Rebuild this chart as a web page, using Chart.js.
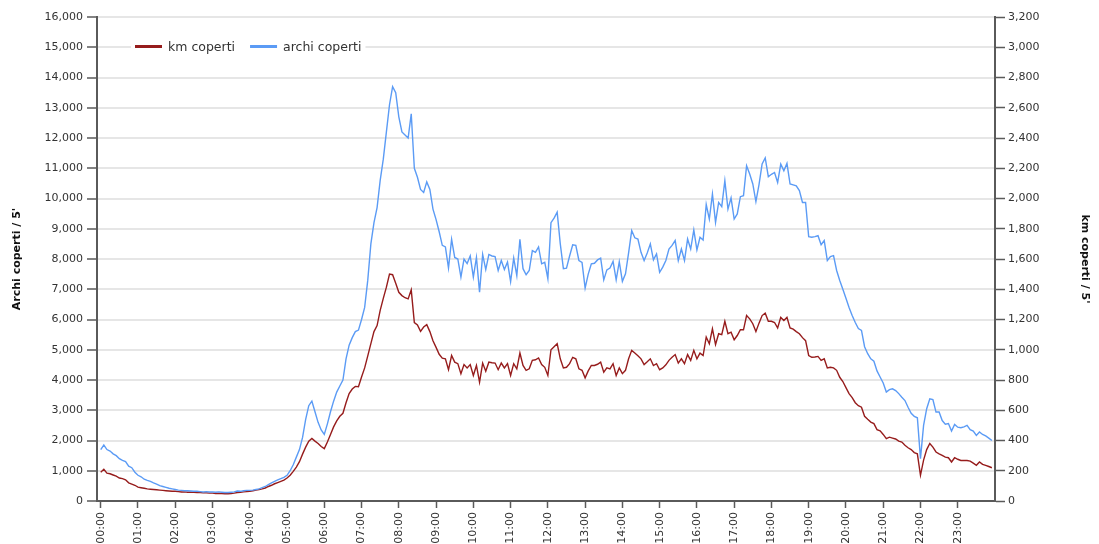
<!DOCTYPE html>
<html><head><meta charset="utf-8">
<script src="https://cdn.jsdelivr.net/npm/chart.js@4.4.1/dist/chart.umd.min.js"></script>
<style>html,body{margin:0;padding:0;background:#fff;overflow:hidden}#wrap{width:1099px;height:544px;position:relative}</style>
</head><body><div id="wrap"><canvas id="c" width="1099" height="544"></canvas></div>
<script>
// categories: 5-minute slots of one day
const times = Array.from({length: 288}, (_, i) =>
  String(Math.floor(i / 12)).padStart(2, '0') + ':' + String((i % 12) * 5).padStart(2, '0'));

// x tick labels (one per hour)
const hourLabels = ['00:00','01:00','02:00','03:00','04:00','05:00','06:00','07:00','08:00','09:00','10:00','11:00',
  '12:00','13:00','14:00','15:00','16:00','17:00','18:00','19:00','20:00','21:00','22:00','23:00'];

const seriesNames = ['km coperti', 'archi coperti'];
const axisTitles = ['Archi coperti / 5\'', 'km coperti / 5\''];

// km coperti / 5' (right axis)
const kmCoperti = [
  190,210,184,180,172,164,152,148,140,120,112,104,
  92,88,84,80,78,76,74,72,70,68,66,64,
  64,62,60,60,58,58,57,56,56,54,54,52,
  52,50,50,50,48,48,50,52,56,58,60,62,
  64,68,72,76,80,86,96,104,114,122,130,138,
  152,170,196,224,260,310,356,396,414,396,380,360,
  346,390,440,490,530,560,580,650,710,740,758,756,
  820,880,960,1040,1120,1160,1260,1340,1414,1500,1496,1440,
  1380,1358,1344,1336,1396,1180,1164,1122,1150,1166,1120,1060,
  1016,970,944,940,868,962,918,908,842,902,880,902,
  830,896,786,912,858,918,914,912,868,912,880,908,
  830,908,874,978,896,864,874,930,934,946,902,884,
  830,1000,1020,1040,940,880,884,908,950,940,874,864,
  814,860,896,896,904,918,852,880,874,908,830,880,
  842,864,940,996,978,960,940,902,920,940,896,908,
  868,880,900,930,950,968,912,940,908,968,930,996,
  940,978,962,1084,1040,1138,1034,1106,1100,1188,1106,1116,
  1066,1094,1132,1132,1226,1204,1172,1120,1176,1226,1242,1188,
  1188,1180,1144,1214,1194,1214,1144,1136,1120,1106,1080,1060,
  962,950,952,956,930,940,880,884,880,864,818,790,
  750,710,684,650,630,620,560,540,522,512,472,464,
  440,412,422,416,410,396,390,368,352,340,320,312,
  170,270,340,380,356,324,312,302,290,286,258,286,
  276,268,268,268,264,250,236,258,242,236,228,220
];

// archi coperti / 5' (left axis)
const archiCoperti = [
  1700,1850,1700,1650,1560,1500,1400,1340,1300,1150,1100,950,
  850,800,720,680,650,600,560,510,480,450,420,400,
  380,360,350,340,340,330,320,320,310,300,310,300,
  300,290,300,290,280,280,290,300,330,320,340,350,
  350,360,380,400,440,480,540,600,650,700,740,780,
  850,1000,1200,1450,1700,2100,2700,3150,3300,2950,2600,2350,
  2200,2550,2950,3300,3600,3800,4000,4700,5150,5400,5600,5650,
  6000,6400,7300,8500,9200,9700,10600,11300,12200,13100,13700,13500,
  12700,12200,12100,12000,12800,11000,10700,10300,10200,10550,10300,9650,
  9300,8900,8450,8400,7700,8650,8050,8000,7400,8000,7850,8100,
  7400,8050,6900,8150,7650,8150,8100,8080,7620,7950,7650,7900,
  7250,8030,7450,8650,7680,7480,7620,8280,8220,8400,7840,7890,
  7350,9200,9350,9550,8500,7680,7700,8100,8470,8450,7950,7890,
  7040,7500,7840,7860,7970,8030,7310,7640,7700,7920,7310,7910,
  7260,7510,8200,8940,8700,8660,8220,7950,8200,8500,7970,8170,
  7560,7730,7950,8330,8450,8610,7950,8330,7950,8660,8330,8960,
  8300,8720,8630,9800,9320,10150,9210,9870,9730,10590,9650,10020,
  9320,9490,10060,10090,11080,10810,10480,9900,10460,11140,11340,10720,
  10800,10860,10530,11140,10920,11160,10480,10450,10420,10260,9870,9870,
  8740,8720,8740,8770,8470,8610,7950,8080,8110,7620,7290,7000,
  6700,6400,6130,5900,5700,5640,5100,4870,4700,4620,4300,4100,
  3900,3600,3680,3710,3650,3550,3430,3320,3100,2900,2800,2750,
  1400,2500,3050,3380,3350,2940,2940,2660,2540,2560,2310,2530,
  2440,2420,2450,2500,2360,2310,2170,2280,2200,2150,2080,2000
];

const toMin = t => { const [h, m] = t.split(':').map(Number); return h * 60 + m; };
const FONT = '"DejaVu Sans", Verdana, sans-serif';
Chart.defaults.font.family = FONT;
Chart.defaults.font.size = 11;
Chart.defaults.color = '#333';

const AX = '#5a5a5a';

const insideLegend = {
  id: 'insideLegend',
  afterDraw(chart) {
    const ctx = chart.ctx;
    ctx.save();
    ctx.font = '12.5px ' + FONT;
    ctx.textBaseline = 'middle';
    const y = 46.5;
    let x = 135;
    let total = 0;
    chart.data.datasets.forEach((ds, i) => { total += 33 + ctx.measureText(ds.label).width + (i < chart.data.datasets.length - 1 ? 15 : 0); });
    ctx.fillStyle = '#fff';
    ctx.fillRect(x - 4, y - 9, total + 8, 18);
    chart.data.datasets.forEach(ds => {
      ctx.strokeStyle = ds.borderColor;
      ctx.lineWidth = 3;
      ctx.beginPath(); ctx.moveTo(x, y); ctx.lineTo(x + 27, y); ctx.stroke();
      ctx.fillStyle = '#333';
      ctx.fillText(ds.label, x + 33, y + 1);
      x += 33 + ctx.measureText(ds.label).width + 15;
    });
    ctx.restore();
  }
};

new Chart(document.getElementById('c'), {
  type: 'line',
  data: {
    datasets: [
      {
        label: seriesNames[0],
        data: kmCoperti.map((v, i) => ({x: toMin(times[i]), y: v})),
        yAxisID: 'y1',
        borderColor: '#961c1c',
        borderWidth: 1.4,
        pointRadius: 0,
        tension: 0,
        order: 1
      },
      {
        label: seriesNames[1],
        data: archiCoperti.map((v, i) => ({x: toMin(times[i]), y: v})),
        yAxisID: 'y',
        borderColor: '#5b9bf5',
        borderWidth: 1.4,
        pointRadius: 0,
        tension: 0,
        order: 0
      }
    ]
  },
  options: {
    responsive: false,
    animation: false,
    devicePixelRatio: 1,
    layout: {padding: {top: 17, left: 0, right: 0, bottom: 0}},
    plugins: {legend: {display: false}, tooltip: {enabled: false}},
    scales: {
      x: {
        type: 'linear',
        min: -6,
        max: 1440,
        afterBuildTicks: s => { s.ticks = hourLabels.map(l => ({value: toMin(l)})); },
        afterFit: s => { s.height = 43; },
        ticks: {
          autoSkip: false,
          minRotation: 90,
          maxRotation: 90,
          padding: 4,
          font: {size: 11},
          color: '#333',
          callback: (v) => { const i = Math.round(v / 60); return hourLabels[i] ?? ''; }
        },
        grid: {drawOnChartArea: false, drawTicks: true, tickLength: 7, tickColor: AX, tickWidth: 1.5},
        border: {color: AX, width: 2}
      },
      y: {
        position: 'left',
        min: 0,
        max: 16000,
        afterFit: s => { s.width = 97; },
        ticks: {stepSize: 1000, padding: 4, color: '#333', callback: v => v.toLocaleString('en-US')},
        grid: {color: '#e6e6e6', lineWidth: 2, tickLength: 10, tickColor: AX, tickWidth: 1.5},
        border: {color: AX, width: 2},
        title: {display: true, text: axisTitles[0], color: '#111', font: {size: 11, weight: 'bold'}, padding: {top: 11, bottom: 4}}
      },
      y1: {
        position: 'right',
        min: 0,
        max: 3200,
        afterFit: s => { s.width = 104; },
        ticks: {stepSize: 200, padding: 3, color: '#333', callback: v => v.toLocaleString('en-US')},
        grid: {drawOnChartArea: false, tickLength: 10, tickColor: AX, tickWidth: 1.5},
        border: {color: AX, width: 2},
        title: {display: true, text: axisTitles[1], color: '#111', font: {size: 11, weight: 'bold'}, padding: {top: 8, bottom: 4}}
      }
    }
  },
  plugins: [insideLegend]
});
</script></body></html>
